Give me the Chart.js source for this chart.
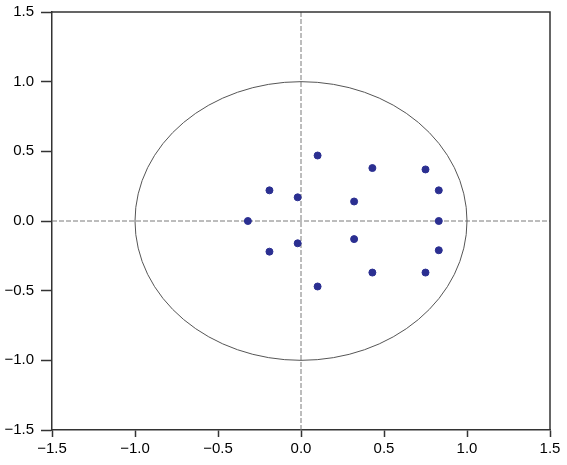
<!DOCTYPE html>
<html>
<head>
<meta charset="utf-8">
<script src="https://cdn.jsdelivr.net/npm/chart.js@4"></script>
<style>
  html, body { margin: 0; padding: 0; background: #fff; }
</style>
</head>
<body>
<canvas id="roots" width="567" height="465"></canvas>
<script>
// inverse roots
const rootRe = [0.10, 0.10, 0.43, 0.43, 0.75, 0.75, 0.83, 0.83, 0.83, 0.32, 0.32, -0.02, -0.02, -0.19, -0.19, -0.32];
const rootIm = [0.47, -0.47, 0.38, -0.37, 0.37, -0.37, 0.22, -0.21, 0.00, 0.14, -0.13, 0.17, -0.16, 0.22, -0.22, 0.00];
const tickValues = [-1.5, -1.0, -0.5, 0.0, 0.5, 1.0, 1.5];
const unitRadius = 1;

const fmt = v => v.toFixed(1).replace('-', '\u2212');

// unit circle, zero lines and the box around the plot
const decor = {
    id: 'decor',
    beforeDatasetsDraw(chart) {
        const { ctx, chartArea: a, scales: { x, y } } = chart;
        const cx = x.getPixelForValue(0), cy = y.getPixelForValue(0);
        ctx.save();
        ctx.strokeStyle = '#7a7a7a';
        ctx.lineWidth = 1;
        ctx.setLineDash([5, 2]);
        ctx.beginPath();
        ctx.moveTo(a.left, cy); ctx.lineTo(a.right, cy);
        ctx.moveTo(cx, a.top); ctx.lineTo(cx, a.bottom);
        ctx.stroke();
        ctx.setLineDash([]);
        ctx.strokeStyle = '#555';
        ctx.beginPath();
        ctx.ellipse(cx, cy,
            Math.abs(x.getPixelForValue(unitRadius) - cx),
            Math.abs(y.getPixelForValue(unitRadius) - cy), 0, 0, Math.PI * 2);
        ctx.stroke();
        ctx.strokeStyle = '#333';
        ctx.lineWidth = 1.5;
        ctx.beginPath();
        ctx.moveTo(a.left, a.top); ctx.lineTo(a.right, a.top); ctx.lineTo(a.right, a.bottom);
        ctx.stroke();
        ctx.restore();
    }
};

const tickOpts = { color: '#000', font: { family: 'Liberation Sans', size: 15 } };

new Chart(document.getElementById('roots'), {
    type: 'scatter',
    data: {
        datasets: [{
            data: rootRe.map((re, i) => ({ x: re, y: rootIm[i] })),
            backgroundColor: '#2b2f91',
            borderColor: '#2b2f91',
            pointRadius: 3.5,
            pointHoverRadius: 3.5,
        }]
    },
    options: {
        responsive: false,
        animation: false,
        layout: { padding: { top: 12, right: 17 } },
        plugins: { legend: { display: false }, tooltip: { enabled: false } },
        scales: {
            x: {
                min: -1.5, max: 1.5,
                afterBuildTicks: s => { s.ticks = tickValues.map(v => ({ value: v })); },
                afterFit: s => { s.height = 35; s.paddingLeft = 0; s.paddingRight = 0; },
                grid: { drawOnChartArea: false, tickLength: 7, tickColor: '#333', tickWidth: 1.5 },
                border: { color: '#333', width: 1.5 },
                ticks: { ...tickOpts, padding: 3, maxRotation: 0, callback: v => fmt(v) },
            },
            y: {
                min: -1.5, max: 1.5,
                afterBuildTicks: s => { s.ticks = tickValues.map(v => ({ value: v })); },
                afterFit: s => { s.width = 52; s.paddingTop = 0; s.paddingBottom = 0; },
                grid: { drawOnChartArea: false, tickLength: 11, tickColor: '#333', tickWidth: 1.5 },
                border: { color: '#333', width: 1.5 },
                ticks: { ...tickOpts, padding: 7, callback: v => fmt(v) },
            }
        }
    },
    plugins: [decor]
});
</script>
</body>
</html>
